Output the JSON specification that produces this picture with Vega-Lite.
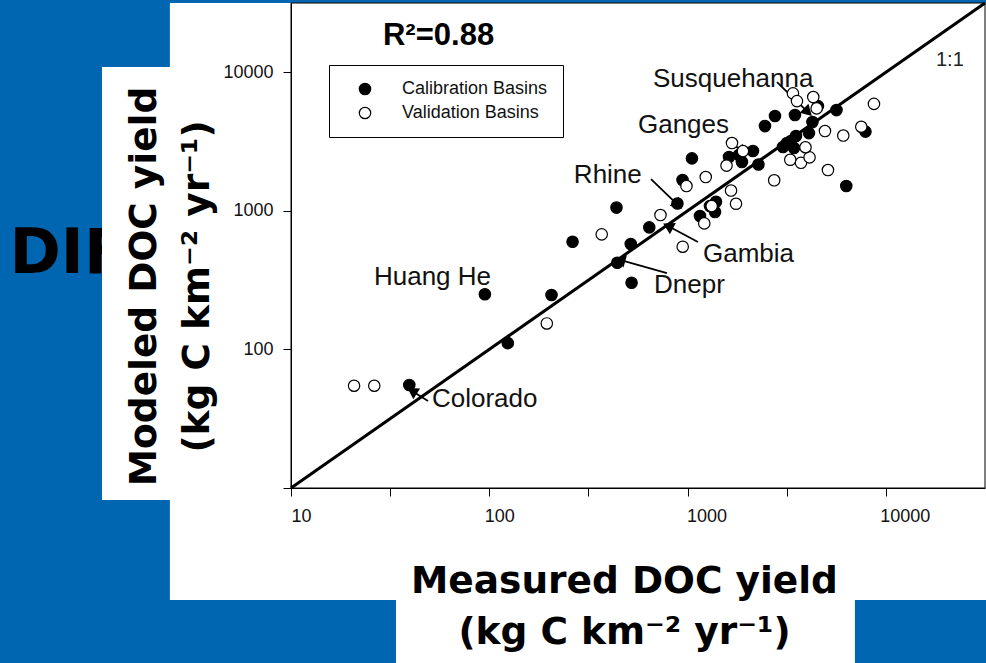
{
  "$schema": "https://vega.github.io/schema/vega-lite/v6.json",
  "width": 694,
  "height": 485,
  "autosize": {"type": "none"},
  "padding": {"left": 291, "top": 3, "right": 1, "bottom": 175},
  "background": "#0066b2",
  "config": {"view": {"stroke": null}},
  "datasets": {
    "basins": [
      {"measured": 39.5, "modeled": 55.4, "set": "Calibration Basins"},
      {"measured": 95, "modeled": 250, "set": "Calibration Basins"},
      {"measured": 124, "modeled": 111, "set": "Calibration Basins"},
      {"measured": 206, "modeled": 247, "set": "Calibration Basins"},
      {"measured": 263, "modeled": 598, "set": "Calibration Basins"},
      {"measured": 438, "modeled": 1056, "set": "Calibration Basins"},
      {"measured": 442, "modeled": 422, "set": "Calibration Basins"},
      {"measured": 522, "modeled": 303, "set": "Calibration Basins"},
      {"measured": 517, "modeled": 576, "set": "Calibration Basins"},
      {"measured": 641, "modeled": 760, "set": "Calibration Basins"},
      {"measured": 889, "modeled": 1129, "set": "Calibration Basins"},
      {"measured": 943, "modeled": 1669, "set": "Calibration Basins"},
      {"measured": 1052, "modeled": 2392, "set": "Calibration Basins"},
      {"measured": 1155, "modeled": 917, "set": "Calibration Basins"},
      {"measured": 1297, "modeled": 1083, "set": "Calibration Basins"},
      {"measured": 1375, "modeled": 980, "set": "Calibration Basins"},
      {"measured": 1391, "modeled": 1163, "set": "Calibration Basins"},
      {"measured": 1618, "modeled": 2444, "set": "Calibration Basins"},
      {"measured": 1816, "modeled": 2527, "set": "Calibration Basins"},
      {"measured": 1880, "modeled": 2250, "set": "Calibration Basins"},
      {"measured": 2137, "modeled": 2701, "set": "Calibration Basins"},
      {"measured": 2278, "modeled": 2158, "set": "Calibration Basins"},
      {"measured": 2457, "modeled": 4091, "set": "Calibration Basins"},
      {"measured": 2760, "modeled": 4831, "set": "Calibration Basins"},
      {"measured": 3480, "modeled": 4912, "set": "Calibration Basins"},
      {"measured": 3521, "modeled": 3465, "set": "Calibration Basins"},
      {"measured": 3323, "modeled": 3189, "set": "Calibration Basins"},
      {"measured": 3028, "modeled": 2887, "set": "Calibration Basins"},
      {"measured": 3172, "modeled": 3085, "set": "Calibration Basins"},
      {"measured": 3440, "modeled": 2839, "set": "Calibration Basins"},
      {"measured": 4095, "modeled": 3641, "set": "Calibration Basins"},
      {"measured": 4264, "modeled": 4372, "set": "Calibration Basins"},
      {"measured": 4546, "modeled": 5703, "set": "Calibration Basins"},
      {"measured": 5636, "modeled": 5337, "set": "Calibration Basins"},
      {"measured": 7891, "modeled": 3733, "set": "Calibration Basins"},
      {"measured": 6315, "modeled": 1510, "set": "Calibration Basins"},
      {"measured": 20.8, "modeled": 54.7, "set": "Validation Basins"},
      {"measured": 26.3, "modeled": 54.7, "set": "Validation Basins"},
      {"measured": 195, "modeled": 154, "set": "Validation Basins"},
      {"measured": 369, "modeled": 677, "set": "Validation Basins"},
      {"measured": 730, "modeled": 933, "set": "Validation Basins"},
      {"measured": 945, "modeled": 551, "set": "Validation Basins"},
      {"measured": 987, "modeled": 1510, "set": "Validation Basins"},
      {"measured": 1235, "modeled": 1754, "set": "Validation Basins"},
      {"measured": 1214, "modeled": 812, "set": "Validation Basins"},
      {"measured": 1323, "modeled": 1083, "set": "Validation Basins"},
      {"measured": 1656, "modeled": 1401, "set": "Validation Basins"},
      {"measured": 1755, "modeled": 1125, "set": "Validation Basins"},
      {"measured": 1572, "modeled": 2122, "set": "Validation Basins"},
      {"measured": 1675, "modeled": 3085, "set": "Validation Basins"},
      {"measured": 1902, "modeled": 2701, "set": "Validation Basins"},
      {"measured": 2734, "modeled": 1661, "set": "Validation Basins"},
      {"measured": 3295, "modeled": 2337, "set": "Validation Basins"},
      {"measured": 3732, "modeled": 2223, "set": "Validation Basins"},
      {"measured": 4123, "modeled": 2432, "set": "Validation Basins"},
      {"measured": 3932, "modeled": 2877, "set": "Validation Basins"},
      {"measured": 3400, "modeled": 7043, "set": "Validation Basins"},
      {"measured": 3562, "modeled": 6197, "set": "Validation Basins"},
      {"measured": 4304, "modeled": 6625, "set": "Validation Basins"},
      {"measured": 4477, "modeled": 5489, "set": "Validation Basins"},
      {"measured": 4931, "modeled": 3765, "set": "Validation Basins"},
      {"measured": 6099, "modeled": 3494, "set": "Validation Basins"},
      {"measured": 7516, "modeled": 4045, "set": "Validation Basins"},
      {"measured": 8710, "modeled": 5916, "set": "Validation Basins"},
      {"measured": 5105, "modeled": 1970, "set": "Validation Basins"}
    ],
    "labels": [
      {"label": "Susquehanna", "x": 669, "y": 7823},
      {"label": "Ganges", "x": 562, "y": 3641},
      {"label": "Rhine", "x": 267, "y": 1588},
      {"label": "Gambia", "x": 1196, "y": 427},
      {"label": "Dnepr", "x": 677, "y": 255},
      {"label": "Huang He", "x": 26.2, "y": 291},
      {"label": "Colorado", "x": 51.4, "y": 38.4}
    ],
    "arrows": [
      {"river": "Susquehanna", "x": 2824, "y": 8499, "x2": 4048, "y2": 5162},
      {"river": "Ganges", "x": 1599, "y": 3351, "x2": 1880, "y2": 2656},
      {"river": "Rhine", "x": 654, "y": 1696, "x2": 895, "y2": 1101},
      {"river": "Gambia", "x": 1128, "y": 596, "x2": 797, "y2": 777},
      {"river": "Dnepr", "x": 787, "y": 356, "x2": 456, "y2": 442},
      {"river": "Colorado", "x": 49.1, "y": 42.4, "x2": 40.8, "y2": 50.1}
    ]
  },
  "layer": [
    {
      "data": {"name": "basins"},
      "mark": {"type": "point", "opacity": 0},
      "encoding": {
        "x": {
          "field": "measured", "type": "quantitative",
          "scale": {"type": "log", "domain": [10, 31622.8], "nice": false},
          "axis": {
            "title": ["Measured DOC yield", "(kg C km⁻² yr⁻¹)"],
            "values": [10, 31.6228, 100, 316.228, 1000, 3162.28, 10000],
            "labelExpr": "indexof([10, 100, 1000, 10000], datum.value) >= 0 ? format(datum.value, 'd') : ''",
            "grid": false, "zindex": 1,
            "domainColor": "#000000", "tickColor": "#000000", "tickSize": 8,
            "labelFont": "Liberation Sans", "labelFontSize": 18, "labelColor": "#111111",
            "labelPadding": 11, "labelFlush": false, "labelOverlap": false,
            "labelOffset": {"condition": {"test": "datum.value <= 100", "value": 10}, "value": 19},
            "titleFont": "DejaVu Sans", "titleFontSize": 37.5, "titleFontWeight": "bold", "titleColor": "#000000",
            "titleLineHeight": 51, "titleX": 333, "titleY": 104, "titleAlign": "center", "titleBaseline": "alphabetic", "titleAngle": 0
          }
        },
        "y": {
          "field": "modeled", "type": "quantitative",
          "scale": {"type": "log", "domain": [10, 31622.8], "nice": false},
          "axis": {
            "title": ["Modeled DOC yield", "(kg C km⁻² yr⁻¹)"],
            "values": [10, 100, 1000, 10000],
            "labelExpr": "datum.value >= 100 ? format(datum.value, 'd') : ''",
            "grid": false, "zindex": 1,
            "domainColor": "#000000", "tickColor": "#000000", "tickSize": 8,
            "labelFont": "Liberation Sans", "labelFontSize": 18, "labelColor": "#111111",
            "labelPadding": 10, "labelFlush": false, "labelOverlap": false,
            "titleFont": "DejaVu Sans", "titleFontSize": 37.5, "titleFontWeight": "bold", "titleColor": "#000000",
            "titleLineHeight": 53, "titleX": -136, "titleY": 283, "titleAlign": "center", "titleBaseline": "alphabetic", "titleAngle": 270
          }
        }
      }
    },
    {
      "data": {"values": [{}]},
      "mark": {"type": "text", "text": "DIF", "font": "DejaVu Sans", "fontWeight": "bold", "fontSize": 62, "align": "left", "baseline": "alphabetic", "color": "#000000"},
      "encoding": {
        "x": {"datum": 0.38, "type": "quantitative", "scale": {"type": "log", "domain": [10, 31622.8], "nice": false}},
        "y": {"datum": 355.8, "type": "quantitative", "scale": {"type": "log", "domain": [10, 31622.8], "nice": false}}
      }
    },
    {
      "data": {"values": [{}]},
      "mark": {"type": "rect", "fill": "#ffffff", "stroke": null},
      "encoding": {
        "x": {"datum": 2.45, "type": "quantitative", "scale": {"type": "log", "domain": [10, 31622.8], "nice": false}},
        "x2": {"datum": 33000},
        "y": {"datum": 1.556, "type": "quantitative", "scale": {"type": "log", "domain": [10, 31622.8], "nice": false}},
        "y2": {"datum": 31622.8}
      }
    },
    {
      "data": {"values": [{}]},
      "mark": {"type": "rect", "fill": "#ffffff", "stroke": null},
      "encoding": {
        "x": {"datum": 1.114, "type": "quantitative", "scale": {"type": "log", "domain": [10, 31622.8], "nice": false}},
        "x2": {"datum": 2.6},
        "y": {"datum": 8.19, "type": "quantitative", "scale": {"type": "log", "domain": [10, 31622.8], "nice": false}},
        "y2": {"datum": 10901}
      }
    },
    {
      "data": {"values": [{}]},
      "mark": {"type": "rect", "fill": "#ffffff", "stroke": null},
      "encoding": {
        "x": {"datum": 33.85, "type": "quantitative", "scale": {"type": "log", "domain": [10, 31622.8], "nice": false}},
        "x2": {"datum": 6982},
        "y": {"datum": 0.3, "type": "quantitative", "scale": {"type": "log", "domain": [10, 31622.8], "nice": false}},
        "y2": {"datum": 2}
      }
    },
    {
      "data": {"values": [{}]},
      "mark": {"type": "rect", "filled": false, "stroke": "#000000", "strokeWidth": 1},
      "encoding": {
        "x": {"datum": 10, "type": "quantitative", "scale": {"type": "log", "domain": [10, 31622.8], "nice": false}},
        "x2": {"datum": 31622.8},
        "y": {"datum": 10, "type": "quantitative", "scale": {"type": "log", "domain": [10, 31622.8], "nice": false}},
        "y2": {"datum": 31622.8}
      }
    },
    {
      "data": {"values": [{}]},
      "mark": {"type": "rule", "color": "#000000", "strokeWidth": 3},
      "encoding": {
        "x": {"datum": 10, "type": "quantitative", "scale": {"type": "log", "domain": [10, 31622.8], "nice": false}},
        "x2": {"datum": 31622.8},
        "y": {"datum": 10, "type": "quantitative", "scale": {"type": "log", "domain": [10, 31622.8], "nice": false}},
        "y2": {"datum": 31622.8}
      }
    },
    {
      "data": {"name": "arrows"},
      "mark": {"type": "rule", "color": "#000000", "strokeWidth": 1.8},
      "encoding": {
        "x": {"field": "x", "type": "quantitative", "scale": {"type": "log", "domain": [10, 31622.8], "nice": false}},
        "x2": {"field": "x2"},
        "y": {"field": "y", "type": "quantitative", "scale": {"type": "log", "domain": [10, 31622.8], "nice": false}},
        "y2": {"field": "y2"}
      }
    },
    {
      "data": {"name": "arrows"},
      "transform": [
        {"calculate": "atan2(694 * log(datum.x2 / datum.x), 485 * log(datum.y2 / datum.y)) * 180 / PI", "as": "ang"}
      ],
      "mark": {"type": "point", "shape": "triangle-up", "filled": true, "color": "#000000", "size": 160, "opacity": 1},
      "encoding": {
        "x": {"field": "x2", "type": "quantitative", "scale": {"type": "log", "domain": [10, 31622.8], "nice": false}},
        "y": {"field": "y2", "type": "quantitative", "scale": {"type": "log", "domain": [10, 31622.8], "nice": false}},
        "angle": {"field": "ang", "type": "quantitative", "scale": null}
      }
    },
    {
      "data": {"name": "basins"},
      "mark": {"type": "point", "shape": "circle", "filled": true, "size": 130, "stroke": "#000000", "strokeWidth": 1.2, "opacity": 1},
      "encoding": {
        "x": {"field": "measured", "type": "quantitative", "scale": {"type": "log", "domain": [10, 31622.8], "nice": false}},
        "y": {"field": "modeled", "type": "quantitative", "scale": {"type": "log", "domain": [10, 31622.8], "nice": false}},
        "fill": {
          "field": "set", "type": "nominal",
          "scale": {"domain": ["Calibration Basins", "Validation Basins"], "range": ["#000000", "#ffffff"]},
          "legend": {
            "title": null, "orient": "none", "legendX": 38, "legendY": 62,
            "strokeColor": "#000000", "fillColor": "#ffffff", "padding": 15, "cornerRadius": 0,
            "labelFont": "Liberation Sans", "labelFontSize": 18, "labelColor": "#111111",
            "symbolType": "circle", "symbolSize": 130, "symbolStrokeColor": "#000000", "symbolStrokeWidth": 1.2,
            "symbolOffset": 12, "labelOffset": 28, "rowPadding": 6
          }
        }
      }
    },
    {
      "data": {"name": "labels"},
      "mark": {"type": "text", "font": "Liberation Sans", "fontSize": 26, "align": "left", "baseline": "alphabetic", "color": "#111111"},
      "encoding": {
        "x": {"field": "x", "type": "quantitative", "scale": {"type": "log", "domain": [10, 31622.8], "nice": false}},
        "y": {"field": "y", "type": "quantitative", "scale": {"type": "log", "domain": [10, 31622.8], "nice": false}},
        "text": {"field": "label"}
      }
    },
    {
      "data": {"values": [{}]},
      "mark": {"type": "text", "text": "R²=0.88", "font": "Liberation Sans", "fontWeight": "bold", "fontSize": 31, "align": "left", "baseline": "alphabetic", "color": "#000000"},
      "encoding": {
        "x": {"datum": 29.1, "type": "quantitative", "scale": {"type": "log", "domain": [10, 31622.8], "nice": false}},
        "y": {"datum": 15713, "type": "quantitative", "scale": {"type": "log", "domain": [10, 31622.8], "nice": false}}
      }
    },
    {
      "data": {"values": [{}]},
      "mark": {"type": "text", "text": "1:1", "font": "Liberation Sans", "fontSize": 20, "align": "left", "baseline": "alphabetic", "color": "#222222"},
      "encoding": {
        "x": {"datum": 17890, "type": "quantitative", "scale": {"type": "log", "domain": [10, 31622.8], "nice": false}},
        "y": {"datum": 11085, "type": "quantitative", "scale": {"type": "log", "domain": [10, 31622.8], "nice": false}}
      }
    }
  ]
}
